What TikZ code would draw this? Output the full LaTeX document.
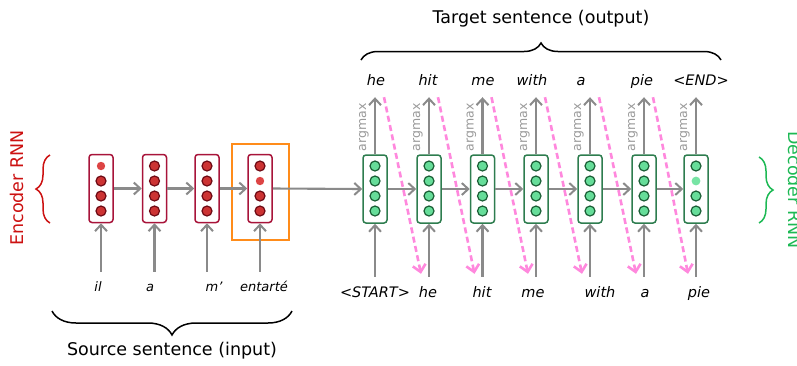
\documentclass[tikz,border=0pt]{standalone}
\usepackage{fontspec}
\setmainfont{DejaVu Sans}
\usetikzlibrary{arrows.meta,decorations.pathreplacing,calc}
\definecolor{encred}{HTML}{A8143A}
\definecolor{encfill}{HTML}{CC3333}
\definecolor{enclight}{HTML}{DD4444}
\definecolor{encdark}{HTML}{6E0A14}
\definecolor{decgreen}{HTML}{2E7D4F}
\definecolor{decfill}{HTML}{66DD99}
\definecolor{declight}{HTML}{77E4A4}
\definecolor{decdark}{HTML}{1A5E35}
\definecolor{arrgray}{HTML}{8A8A8A}
\definecolor{amgray}{HTML}{9A9A9A}
\definecolor{pinkarr}{HTML}{FF88DD}
\definecolor{orangebox}{HTML}{FF8C1A}
\definecolor{labred}{HTML}{CC1111}
\definecolor{labgreen}{HTML}{1DB954}
\begin{document}
\begin{tikzpicture}[x=1pt,y=-1pt,
  enccell/.style={draw=encred, line width=1.5pt, rounded corners=3pt, minimum width=24pt, minimum height=68pt, inner sep=0pt, fill=white},
  deccell/.style={draw=decgreen, line width=1.5pt, rounded corners=3pt, minimum width=24pt, minimum height=68pt, inner sep=0pt, fill=white},
  encdot/.style={draw=encdark, line width=1.2pt, fill=encfill},
  encdotl/.style={fill=enclight},
  decdot/.style={draw=decdark, line width=1.2pt, fill=decfill},
  decdotl/.style={fill=declight},
  garrow/.style={draw=arrgray, line width=2.1pt, -{Straight Barb[length=6.5pt,width=12pt,line width=2pt]}},
  parrow/.style={draw=pinkarr, line width=2.6pt, dash pattern=on 6pt off 3.5pt, -{Straight Barb[length=7pt,width=13pt,line width=2.6pt]}},
  encword/.style={font=\fontsize{13}{13}\selectfont\itshape, anchor=base, inner sep=1pt, text height=9pt, text depth=3pt},
  decword/.style={font=\fontsize{14.5}{14.5}\selectfont\itshape, anchor=base, inner sep=1pt, text height=10pt, text depth=3pt},
  amlabel/.style={font=\fontsize{12.5}{12.5}\selectfont, text=amgray, rotate=90, inner sep=0pt},
  bigtext/.style={font=\fontsize{17.5}{17.5}\selectfont},
  bracestyle/.style={decorate, decoration={brace, amplitude=#1}, line width=1.5pt}
]
\useasboundingbox (0,0) rectangle (797,365);

% titles
\node[bigtext] (ttl) at (541,19) {Target sentence (output)};
\node[bigtext] (stl) at (172,351) {Source sentence (input)};
\node[bigtext, text=labred, rotate=90] (encl) at (17,188) {Encoder RNN};
\node[bigtext, text=labgreen, rotate=-90] (decl) at (795,190) {Decoder RNN};

% braces
\draw[bracestyle=17pt] (361,60) -- (721,60);
\draw[bracestyle=24pt] (292,311) -- (52,311);
\draw[bracestyle=14pt, draw=labred] (50,223) -- (50,155);
\draw[bracestyle=14pt, draw=labgreen] (759,157) -- (759,223);

% orange selection box
\node[draw=orangebox, line width=2.4pt, minimum width=57pt, minimum height=96pt, inner sep=0pt] (sel) at (260.5,192) {};

% encoder cells
\node[enccell] (e1) at (101,188.5) {};
\node[enccell] (e2) at (154.5,188.5) {};
\node[enccell] (e3) at (207,188.5) {};
\node[enccell] (e4) at (260,188.5) {};

% decoder cells
\foreach \i/\x in {1/375,2/429,3/482.5,4/536,5/590,6/644,7/696}{
  \node[deccell] (d\i) at (\x,189) {};
}

% dots
\fill[encdotl] ($(e1)+(0,-22.5)$) circle (4.2pt);
\foreach \dy in {-7.5,7.5,22.5} \draw[encdot] ($(e1)+(0,\dy)$) circle (5pt);
\foreach \c in {e2,e3} \foreach \dy in {-22.5,-7.5,7.5,22.5} \draw[encdot] ($(\c)+(0,\dy)$) circle (5pt);
\fill[encdotl] ($(e4)+(0,-7.5)$) circle (4.2pt);
\foreach \dy in {-22.5,7.5,22.5} \draw[encdot] ($(e4)+(0,\dy)$) circle (5pt);
\foreach \c in {d1,d2,d3,d4,d5,d6} \foreach \dy in {-23,-8,7,22} \draw[decdot] ($(\c)+(0,\dy)$) circle (5pt);
\fill[decdotl] ($(d7)+(0,-8)$) circle (4.4pt);
\foreach \dy in {-23,7,22} \draw[decdot] ($(d7)+(0,\dy)$) circle (5pt);

% horizontal arrows
\draw[garrow] (e1.east) -- (e2.west);
\draw[garrow] (e2.east) -- (e3.west);
\draw[garrow] (e3.east) -- (e4.west);
\draw[garrow] (e4.east) -- (d1.west);
\foreach \a/\b in {1/2,2/3,3/4,4/5,5/6,6/7}{
  \draw[garrow] (d\a.east) -- (d\b.west);
}

% encoder words
\node[encword] (w1) at (98,291) {il};
\node[encword] (w2) at (150,291) {a};
\node[encword] (w3) at (214,291) {m’};
\node[encword] (w4) at (264,291) {entarté};
\foreach \i in {1,2,3,4}{
  \draw[garrow, shorten <=9pt] (e\i.south |- w\i.north) -- (e\i.south);
}

% decoder input words
\node[decword] (i1) at (375,297) {<START>};
\node[decword] (i2) at (428,297) {he};
\node[decword] (i3) at (482,297) {hit};
\node[decword] (i4) at (533,297) {me};
\node[decword] (i5) at (600,297) {with};
\node[decword] (i6) at (645,297) {a};
\node[decword] (i7) at (699,297) {pie};
\foreach \i in {1,...,7}{
  \draw[garrow, shorten <=9pt] (d\i.south |- i\i.north) -- (d\i.south);
}

% decoder output words
\node[decword] (o1) at (376,85) {he};
\node[decword] (o2) at (428,85) {hit};
\node[decword] (o3) at (483,85) {me};
\node[decword] (o4) at (532,85) {with};
\node[decword] (o5) at (581,85) {a};
\node[decword] (o6) at (642,85) {pie};
\node[decword] (o7) at (701,85) {<END>};
\foreach \i in {1,...,7}{
  \draw[garrow, shorten >=8pt] (d\i.north) -- (d\i.north |- o\i.south);
  \node[amlabel] (am\i) at ($(d\i.north)+(-11,-27)$) {argmax};
}

% pink feedback arrows
\foreach \a/\b in {1/2,2/3,3/4,4/5,5/6,6/7}{
  \draw[parrow] ($(d\a.north |- o\a.south)+(9,8)$) -- ($(d\b.south |- i\b.north)+(-8,-12)$);
}
\end{tikzpicture}
\end{document}
